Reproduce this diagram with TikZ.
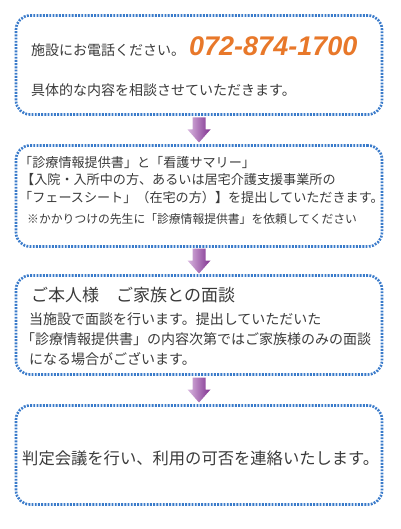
\documentclass[tikz,border=0pt]{standalone}
\usepackage{fontspec}
\setmainfont{Noto Sans CJK JP}
\newfontfamily\telfont{Liberation Sans}
\usepackage{tikz}
\usetikzlibrary{calc}

\definecolor{cadrebleu}{HTML}{3A7BCA}
\definecolor{texte}{HTML}{3A3A3A}
\definecolor{orangetel}{HTML}{E8782A}
\definecolor{violetclair}{HTML}{D9B8DF}
\definecolor{violetfonce}{HTML}{7F2F8F}

\tikzset{
  cadre/.style={draw=cadrebleu, line width=2.6pt, dash pattern=on 1.9pt off 1.3pt,
    rounded corners=14pt, minimum width=366pt, inner sep=0pt},
  fleche/.pic={
    \shade[left color=violetclair, right color=violetfonce]
      (-6.5,-12.5) -- (6.5,-12.5) -- (6.5,-0.5) -- (11.5,-0.5) -- (0,12.5)
      -- (-11.5,-0.5) -- (-6.5,-0.5) -- cycle;
  },
  ligne/.style={anchor=base west, inner sep=0pt, text=texte}
}

\begin{document}
\begin{tikzpicture}[x=1pt, y=-1pt]
        \useasboundingbox (0,0) rectangle (400,529);

        % Cadres
        \node[cadre, minimum height=99pt] (c1) at (199,65) {};
        \node[cadre, minimum height=101pt] (c2) at (199,196) {};
        \node[cadre, minimum height=99pt] (c3) at (199,325) {};
        \node[cadre, minimum height=99pt] (c4) at (199,455) {};

        % Fleches entre les cadres
        \pic at ($(c1.south)!0.5!(c2.north)$) {fleche};
        \pic at ($(c2.south)!0.5!(c3.north)$) {fleche};
        \pic at ($(c3.south)!0.5!(c4.north)$) {fleche};

        % Cadre 1
        \node[ligne, font=\fontsize{14}{14}\selectfont] (t11) at (31,55.3) {施設にお電話ください。};
        \node[ligne, text=orangetel, font=\telfont\bfseries\itshape\fontsize{27}{27}\selectfont] (tel) at (189,55.3) {072-874-1700};
        \node[ligne, font=\fontsize{14}{14}\selectfont] (t12) at (31,95.3) {具体的な内容を相談させていただきます。};

        % Cadre 2
        \node[ligne, font=\fontsize{13.1}{13.1}\selectfont] (t21) at (19,168) {「診療情報提供書」と「看護サマリー」};
        \node[ligne, font=\fontsize{13.1}{13.1}\selectfont] (t22) at (21,185) {【入院・入所中の方、あるいは居宅介護支援事業所の};
        \node[ligne, font=\fontsize{13.1}{13.1}\selectfont] (t23) at (19,203) {「フェースシート」（在宅の方）】を提出していただきます。};
        \node[ligne, font=\fontsize{11.8}{11.8}\selectfont] (t24) at (27,223) {※かかりつけの先生に「診療情報提供書」を依頼してください};

        % Cadre 3
        \node[ligne, font=\fontsize{17}{17}\selectfont] (t31) at (31,301.5) {ご本人様　ご家族との面談};
        \node[ligne, font=\fontsize{14}{14}\selectfont] (t32) at (29,324) {当施設で面談を行います。提出していただいた};
        \node[ligne, font=\fontsize{14}{14}\selectfont] (t33) at (21,344) {「診療情報提供書」の内容次第ではご家族様のみの面談};
        \node[ligne, font=\fontsize{14}{14}\selectfont] (t34) at (29,364) {になる場合がございます。};

        % Cadre 4
        \node[ligne, font=\fontsize{16.3}{16.3}\selectfont] (t41) at (22,464.5) {判定会議を行い、利用の可否を連絡いたします。};
\end{tikzpicture}
\end{document}
